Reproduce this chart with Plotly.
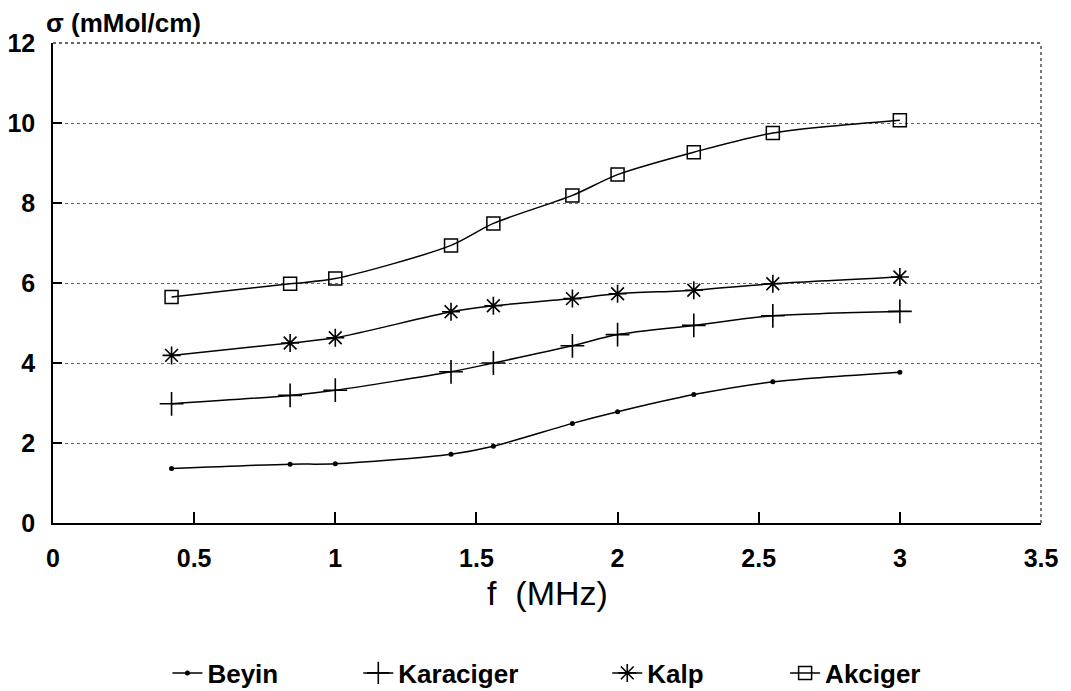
import plotly.graph_objects as go

freq = [0.42, 0.84, 1.0, 1.41, 1.56, 1.84, 2.0, 2.27, 2.55, 3.0]
beyin = [1.36, 1.47, 1.48, 1.72, 1.92, 2.49, 2.78, 3.21, 3.53, 3.77]
karaciger = [2.98, 3.19, 3.32, 3.78, 4.0, 4.43, 4.71, 4.94, 5.18, 5.29]
kalp = [4.19, 4.5, 4.63, 5.28, 5.43, 5.61, 5.73, 5.82, 5.98, 6.15]
akciger = [5.65, 5.98, 6.11, 6.94, 7.49, 8.19, 8.71, 9.27, 9.75, 10.07]

x_ticks = [0, 0.5, 1, 1.5, 2, 2.5, 3, 3.5]
x_tick_text = ["0", "0.5", "1", "1.5", "2", "2.5", "3", "3.5"]
y_ticks = [0, 2, 4, 6, 8, 10, 12]

FONT = "Liberation Sans"
series = [
    ("Beyin", beyin, dict(symbol="circle", size=5, color="black"), "legend", 0.1158),
    ("Karaciger", karaciger, dict(symbol="cross-thin", size=17, color="black",
                                 line=dict(width=1.6, color="black")), "legend2", 0.309),
    ("Kalp", kalp, dict(symbol="asterisk", size=15, color="black",
                        line=dict(width=1.6, color="black")), "legend3", 0.561),
    ("Akciger", akciger, dict(symbol="square-open", size=13, color="black",
                              line=dict(width=1.5, color="black")), "legend4", 0.741),
]

fig = go.Figure()
layout_legends = {}
for name, vals, marker, leg, lx in series:
    fig.add_trace(go.Scatter(
        x=freq, y=vals, name=name, mode="lines+markers",
        line=dict(color="black", width=1.5, shape="spline", smoothing=0.8),
        marker=marker, legend=leg,
    ))
    layout_legends[leg] = dict(
        x=lx, y=-0.3125, xanchor="left", yanchor="middle",
        orientation="h", bgcolor="rgba(0,0,0,0)",
        font=dict(family=FONT, size=26, color="black", weight="bold"),
    )

fig.update_layout(
    width=1071, height=691,
    margin=dict(l=53, r=30, t=43, b=168, autoexpand=False),
    paper_bgcolor="white", plot_bgcolor="white",
    showlegend=True,
    **layout_legends,
)

fig.update_xaxes(
    range=[0, 3.5], tickvals=x_ticks, ticktext=x_tick_text,
    ticks="inside", ticklen=11, tickwidth=1.5, tickcolor="black",
    showline=True, linecolor="black", linewidth=1.5,
    showgrid=False, zeroline=False, automargin=False,
    tickfont=dict(family=FONT, size=25, color="black", weight="bold"),
    ticklabelstandoff=12,
)
fig.update_yaxes(
    range=[0, 12], tickvals=y_ticks,
    ticks="inside", ticklen=9, tickwidth=1.5, tickcolor="black",
    showline=True, linecolor="black", linewidth=1.5,
    showgrid=True, gridcolor="#666666", griddash="dot", gridwidth=1,
    zeroline=False, automargin=False,
    tickfont=dict(family=FONT, size=25, color="black", weight="bold"),
    ticklabelstandoff=11,
)

# dotted frame on top and right
fig.add_shape(type="line", xref="paper", yref="paper", x0=0, x1=1, y0=1, y1=1,
              line=dict(color="#333333", width=1.3, dash="dot"))
fig.add_shape(type="line", xref="paper", yref="paper", x0=1, x1=1, y0=0, y1=1,
              line=dict(color="#333333", width=1.3, dash="dot"))

fig.add_annotation(text="σ (mMol/cm)", xref="paper", yref="paper",
                   x=-0.0096, y=1.041, xanchor="left", yanchor="middle",
                   showarrow=False,
                   font=dict(family=FONT, size=26, color="black", weight="bold"))
fig.add_annotation(text="f  (MHz)", xref="paper", yref="paper",
                   x=0.5, y=-0.1465, xanchor="center", yanchor="middle",
                   showarrow=False,
                   font=dict(family=FONT, size=34, color="black"))

fig.write_html("out.html")
